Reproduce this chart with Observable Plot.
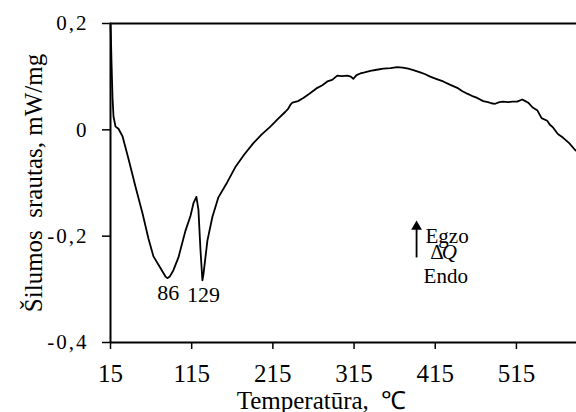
<!DOCTYPE html>
<html><head><meta charset="utf-8">
<script src="https://cdn.jsdelivr.net/npm/d3@7"></script>
<script src="https://cdn.jsdelivr.net/npm/@observablehq/plot@0.6"></script>
<style>
body{margin:0;background:#fff}
svg, svg text{font-family:"Liberation Serif","Times New Roman",serif !important}
g[aria-label="y-axis tick label"] text{letter-spacing:2px}
</style>
</head><body><div id="chart"></div>
<script>
const temps = [15, 15.6, 16.2, 17.5, 18.7, 21.2, 24.8, 29.8, 37.2, 45.8, 54.4, 61.8, 67.9, 76.5, 82.7, 85, 88, 92.5, 98.7, 107.3, 113.5, 117.2, 120.8, 123.3, 125.8, 128.2, 129.5, 134.4, 140.5, 147.9, 159, 168.8, 180, 191, 201, 211.9, 221, 230.4, 234, 237, 239, 246, 252.5, 260, 269.8, 276, 282.1, 288, 294.4, 300, 306.7, 311, 314.1, 318, 322.7, 328, 335, 343, 351, 360, 368.2, 375, 381.8, 389, 396.5, 402, 408.8, 416, 424.8, 433, 442.1, 448, 454.4, 460, 466.7, 474.1, 480, 484, 488.8, 494, 498.7, 505, 510, 515.9, 522.1, 526, 529.5, 535, 540.6, 546, 552.9, 556, 560.3, 566, 572.6, 580, 587.3, 589];
const values = [0.2, 0.17, 0.13, 0.06, 0.025, 0.006, 0.002, -0.012, -0.055, -0.107, -0.157, -0.205, -0.238, -0.26, -0.276, -0.279, -0.276, -0.264, -0.24, -0.19, -0.162, -0.138, -0.126, -0.15, -0.225, -0.283, -0.272, -0.208, -0.164, -0.127, -0.098, -0.07, -0.046, -0.025, -0.009, 0.006, 0.02, 0.034, 0.04, 0.048, 0.051, 0.054, 0.06, 0.068, 0.079, 0.084, 0.091, 0.094, 0.102, 0.101, 0.102, 0.1, 0.096, 0.103, 0.106, 0.108, 0.111, 0.113, 0.115, 0.116, 0.118, 0.117, 0.115, 0.112, 0.108, 0.105, 0.1, 0.096, 0.091, 0.085, 0.079, 0.073, 0.068, 0.064, 0.06, 0.054, 0.052, 0.05, 0.049, 0.052, 0.053, 0.052, 0.053, 0.053, 0.057, 0.054, 0.051, 0.042, 0.037, 0.022, 0.017, 0.01, 0.004, -0.008, -0.015, -0.025, -0.038, -0.04];

const xTicks = [15, 115, 215, 315, 415, 515];
const yTicks = [0.2, 0, -0.2, -0.4];
const peakTemps = [85, 128.2];
const peakLabels = ["86", "129"];
const xLabel = "Temperatūra,  ℃";
const yLabel = "Šilumos  srautas, mW/mg";
const annoLabels = ["Egzo", "Δ", "Q", "Endo"];
const annoTemps = [403, 409, 423, 400.6];
const annoValues = [-0.2, -0.2302, -0.2302, -0.2755];
const arrowTemp = 392;
const arrowValues = [-0.240, -0.182];

const series = temps.map((t, i) => ({t, v: values[i]}));
const peaks = peakTemps.map((t, i) => ({t, v: values[temps.indexOf(t)], label: peakLabels[i]}));
const annos = annoLabels.map((s, i) => ({s, t: annoTemps[i], v: annoValues[i], italic: s === "Q"}));
const fmt = d => d === 0 ? "0" : d.toFixed(1).replace(".", ",");

const chart = Plot.plot({
  width: 576, height: 412,
  marginLeft: 110, marginRight: 0, marginTop: 23, marginBottom: 70,
  style: {fontFamily: '"Liberation Serif", "Times New Roman", serif', background: "#fff", color: "#000"},
  x: {domain: [15, 589]},
  y: {domain: [-0.4, 0.2]},
  marks: [
    Plot.axisX({ticks: xTicks, tickSize: 7, tickPadding: 15, fontSize: 25, strokeWidth: 1.5, label: null, tickFormat: d => String(d)}),
    Plot.axisY({ticks: yTicks, tickSize: 8, tickPadding: 14, fontSize: 21, strokeWidth: 1.5, label: null, tickFormat: fmt}),
    Plot.axisY({ticks: [], tickSize: 0, label: yLabel, labelAnchor: "center", labelArrow: "none", labelOffset: 86, fontSize: 25}),
    Plot.ruleX([15], {strokeWidth: 2}),
    Plot.ruleY([-0.4, 0.2], {strokeWidth: 2}),
    Plot.line(series, {x: "t", y: "v", stroke: "#000", strokeWidth: 1.8, curve: "linear"}),
    Plot.text(peaks, {x: "t", y: "v", text: "label", lineAnchor: "top", dy: 6, dx: 1, fontSize: 22}),
    Plot.text(annos.filter(d => !d.italic), {x: "t", y: "v", text: "s", textAnchor: "start", fontSize: 21}),
    Plot.text(annos.filter(d => d.italic), {x: "t", y: "v", text: "s", textAnchor: "start", fontSize: 21, fontStyle: "italic"}),
    Plot.link([arrowValues], {x1: () => arrowTemp, x2: () => arrowTemp, y1: d => d[0], y2: d => d[1], strokeWidth: 1.8}),
    Plot.dot([arrowValues], {x: () => arrowTemp, y: d => d[1], symbol: "triangle", r: 4, fill: "#000", stroke: null}),
    Plot.text([xLabel], {frameAnchor: "bottom", dy: 66, dx: -22, fontSize: 25})
  ]
});
document.getElementById("chart").appendChild(chart);
</script>
</body></html>
